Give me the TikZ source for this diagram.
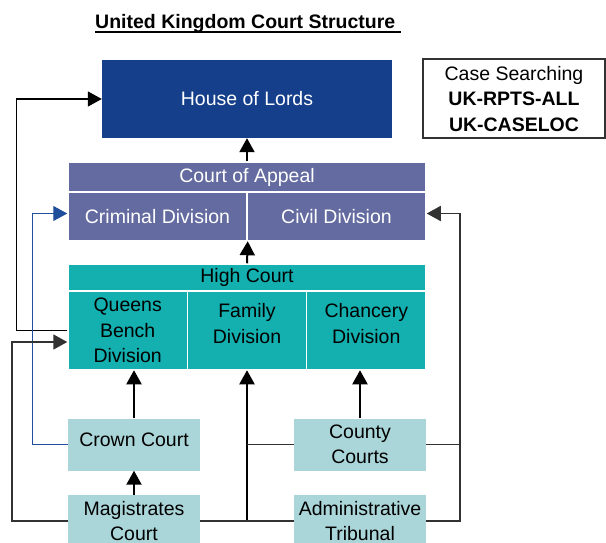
\documentclass[tikz,border=0pt]{standalone}
\usepackage{fontspec}
\setmainfont{Liberation Sans}
\usepackage{tikz}
\usetikzlibrary{arrows.meta}

\definecolor{lordsblue}{RGB}{21,63,138}
\definecolor{appealblue}{RGB}{100,107,160}
\definecolor{highteal}{RGB}{20,175,175}
\definecolor{lowerblue}{RGB}{170,214,217}
\definecolor{crownline}{RGB}{31,78,155}
\definecolor{linegray}{RGB}{50,50,50}

\begin{document}
\begin{tikzpicture}[x=1pt,y=-1pt,>={Triangle[length=14pt,width=15pt]},
  court/.style={rectangle,inner sep=0pt,align=center,font=\fontsize{19.5}{25.5}\selectfont},
  lords node/.style={court,fill=lordsblue,text=white,minimum width=290pt,minimum height=78pt},
  appeal node/.style={court,fill=appealblue,draw=white,line width=1.5pt,text=white},
  high node/.style={court,fill=highteal,draw=white,line width=1.5pt,text=black},
  lower node/.style={court,fill=lowerblue,text=black,minimum width=132pt,minimum height=52pt},
  up arrow/.style={->,line width=2pt},
  link/.style={line width=1.5pt,draw=linegray}]

  \useasboundingbox (0,0) rectangle (606,543);

  \node[court,font=\fontsize{19.5}{25.5}\selectfont\bfseries,anchor=base west] (0) at (95,29) {United Kingdom Court Structure\ };
  \draw[line width=2pt] ([yshift=-3pt]0.base west) -- ([yshift=-3pt]0.base east);

  \node[lords node] (1) at (247,99) {House of Lords};
  \node[court,draw=linegray,line width=1.5pt,minimum width=182pt,minimum height=79pt,text depth=0pt] (13) at (514,98.5)
    {Case Searching\\\textbf{UK-RPTS-ALL}\\\textbf{UK-CASELOC}};

  \node[appeal node,minimum width=358pt,minimum height=30pt] (2) at (247,177) {Court of Appeal};
  \node[appeal node,minimum width=179pt,minimum height=48pt] (3) at (157.5,216.5) {Criminal Division};
  \node[appeal node,minimum width=179pt,minimum height=48pt] (4) at (336.5,216.5) {Civil Division};

  \node[high node,minimum width=358pt,minimum height=27pt] (5) at (247,277.5) {High Court};
  \node[high node,minimum width=119.3pt,minimum height=78pt] (6) at (127.7,330.5) {Queens\\Bench\\Division};
  \node[high node,minimum width=119.3pt,minimum height=78pt,text depth=14pt] (7) at (247,330.5) {Family\\Division};
  \node[high node,minimum width=119.3pt,minimum height=78pt,text depth=14pt] (8) at (366.3,330.5) {Chancery\\Division};

  \node[lower node,text depth=9pt] (9) at (134,444.5) {Crown Court};
  \node[lower node] (10) at (360,444.5) {County\\Courts};
  \node[lower node] (11) at (134,521) {Magistrates\\Court};
  \node[lower node] (12) at (360,521) {Administrative\\Tribunal};

  % appeals upwards
  \draw[up arrow] (2.north) -- (1.south);
  \draw[up arrow] (5.north) -- (3.south east);
  \draw[up arrow] (9.north) -- (9.north |- 6.south);
  \draw[up arrow] (10.north) -- (10.north |- 8.south);
  \draw[up arrow] (11.north) -- (9.south);
  \draw[up arrow] (7.south |- 11.east) -- (7.south);

  \draw[link] (11.east) -- (12.west);
  \draw[link] (10.west) -- (10.west -| 7.south);

  % side routes
  \draw[->,line width=1.5pt] (6.west) -- ++(-51,0) |- (1.west);
  \draw[->,line width=1pt,draw=crownline] (9.west) -- ++(-35,0) |- ([yshift=3pt]3.west);
  \draw[link,->] (11.west) -- ++(-56,0) |- ([yshift=-11.5pt]6.west);
  \draw[link,->] (12.east) -- ++(34,0) |- ([yshift=3pt]4.east);
  \draw[link] (10.east) -- ++(34,0);
\end{tikzpicture}
\end{document}
